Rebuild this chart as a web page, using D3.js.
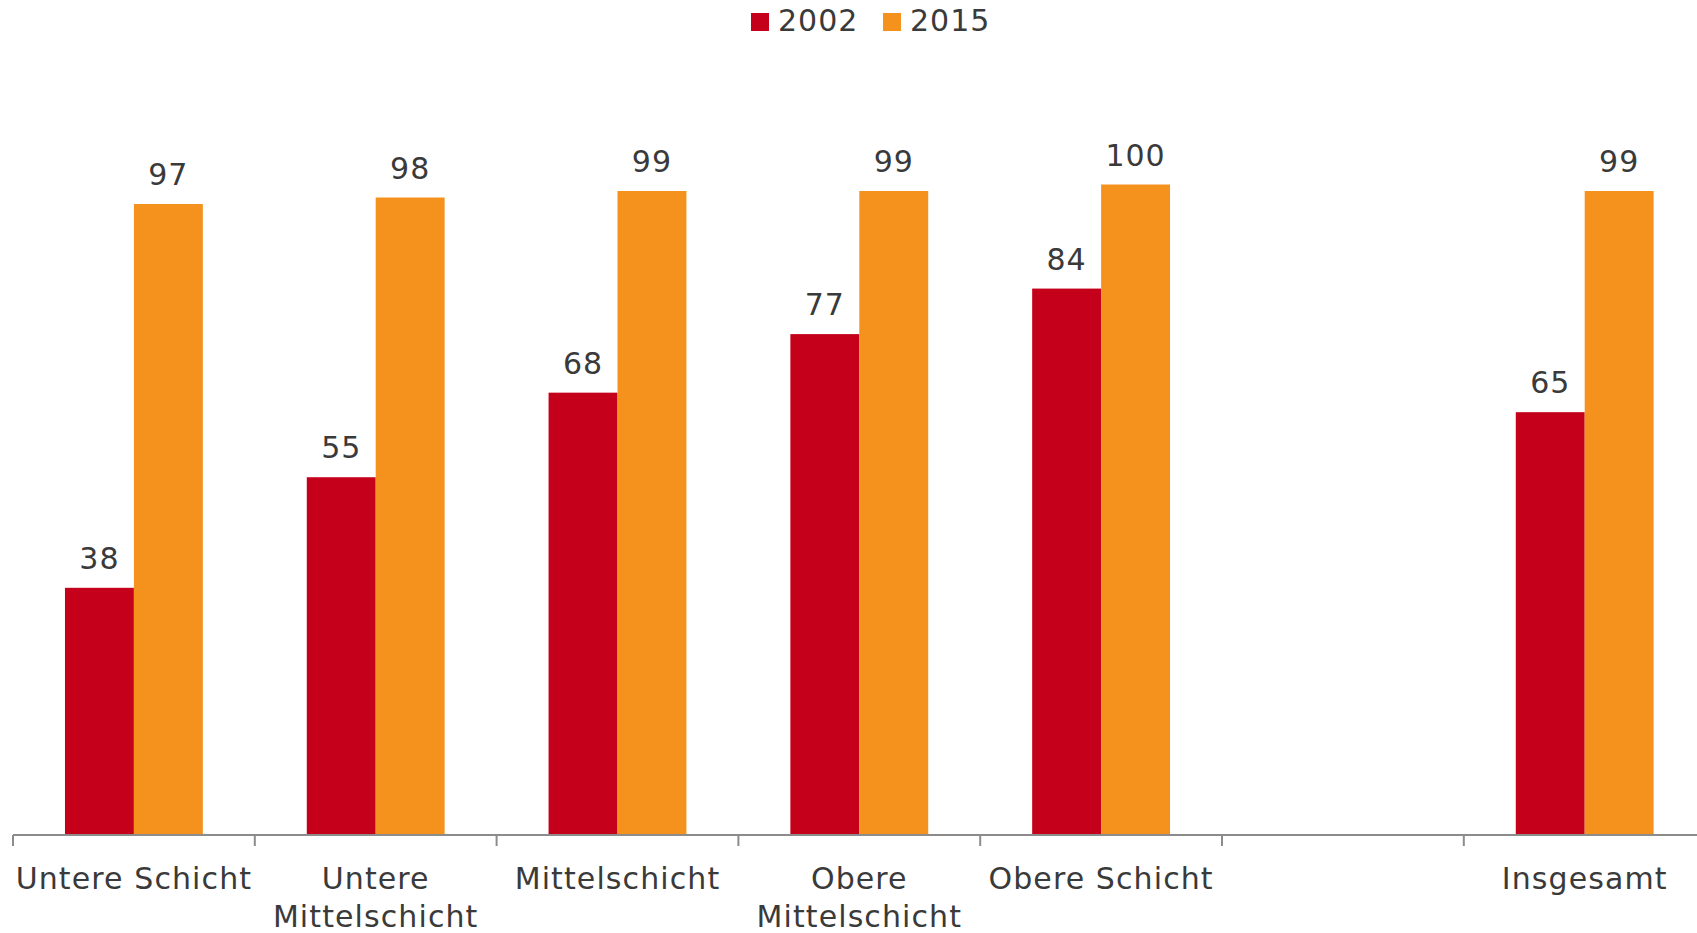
<!DOCTYPE html>
<html>
<head>
<meta charset="utf-8">
<script src="https://cdn.jsdelivr.net/npm/d3@7"></script>
<style>
  body { margin: 0; background: #fff; }
  text { font-family: "DejaVu Sans", Verdana, sans-serif; fill: #3a3a3a; }
</style>
</head>
<body>
<svg id="chart" width="1697" height="933"></svg>
<script>
const categories = ["Untere Schicht", "Untere|Mittelschicht", "Mittelschicht", "Obere|Mittelschicht", "Obere Schicht", " ", "Insgesamt"];
const series = ["2002", "2015"];
const values2002 = [38, 55, 68, 77, 84, null, 65];
const values2015 = [97, 98, 99, 99, 100, null, 99];
const colors = { "2002": "#c4001a", "2015": "#f5921e" };

const svg = d3.select("#chart");
const axisY = 835;

const rows = categories.map((c, i) => ({ cat: c, "2002": values2002[i], "2015": values2015[i] }));

const x = d3.scaleBand()
  .domain(categories)
  .range([13, 13 + 7 * 241.8])
  .padding(0);

const x1 = d3.scaleBand()
  .domain(series)
  .range([0, x.bandwidth()])
  .paddingInner(0)
  .paddingOuter(0.754);

const y = d3.scaleLinear()
  .domain([0, 100])
  .range([axisY, 184.5]);

// Bars
const groups = svg.append("g").selectAll("g")
  .data(rows)
  .enter()
  .append("g")
  .attr("transform", d => `translate(${x(d.cat)},0)`);

groups.selectAll("rect")
  .data(d => series.filter(s => d[s] != null).map(s => ({ key: s, value: d[s] })))
  .enter()
  .append("rect")
  .attr("x", d => x1(d.key))
  .attr("y", d => y(d.value))
  .attr("width", x1.bandwidth())
  .attr("height", d => axisY - y(d.value))
  .attr("fill", d => colors[d.key]);

groups.selectAll("text.val")
  .data(d => series.filter(s => d[s] != null).map(s => ({ key: s, value: d[s] })))
  .enter()
  .append("text")
  .attr("class", "val")
  .attr("x", d => x1(d.key) + x1.bandwidth() / 2)
  .attr("y", d => y(d.value) - 19)
  .attr("text-anchor", "middle")
  .style("font-size", "30px")
  .style("letter-spacing", "1px")
  .text(d => d.value);

// X axis
const axis = svg.append("g");
axis.append("line")
  .attr("x1", 13).attr("x2", 1697)
  .attr("y1", axisY).attr("y2", axisY)
  .attr("stroke", "#8c8c8c")
  .attr("stroke-width", 2);

axis.selectAll("line.tick")
  .data(categories)
  .enter()
  .append("line")
  .attr("class", "tick")
  .attr("x1", d => x(d)).attr("x2", d => x(d))
  .attr("y1", axisY).attr("y2", axisY + 11)
  .attr("stroke", "#8c8c8c")
  .attr("stroke-width", 2);

const labels = axis.selectAll("text.cat")
  .data(categories)
  .enter()
  .append("text")
  .attr("class", "cat")
  .attr("text-anchor", "middle")
  .style("font-size", "30px")
  .style("letter-spacing", "1.1px");

labels.selectAll("tspan")
  .data(d => d.trim().split("|").map(line => ({ line, cat: d })))
  .enter()
  .append("tspan")
  .attr("x", d => x(d.cat) + x.bandwidth() / 2)
  .attr("y", (d, i) => 889 + i * 38)
  .text(d => d.line);

// Legend
const legend = svg.append("g");
const legendX = [751, 883];
series.forEach((s, i) => {
  legend.append("rect")
    .attr("x", legendX[i]).attr("y", 13)
    .attr("width", 18).attr("height", 18)
    .attr("fill", colors[s]);
  legend.append("text")
    .attr("x", legendX[i] + 27).attr("y", 31)
    .style("font-size", "30px")
    .style("letter-spacing", "1px")
    .text(s);
});
</script>
</body>
</html>
